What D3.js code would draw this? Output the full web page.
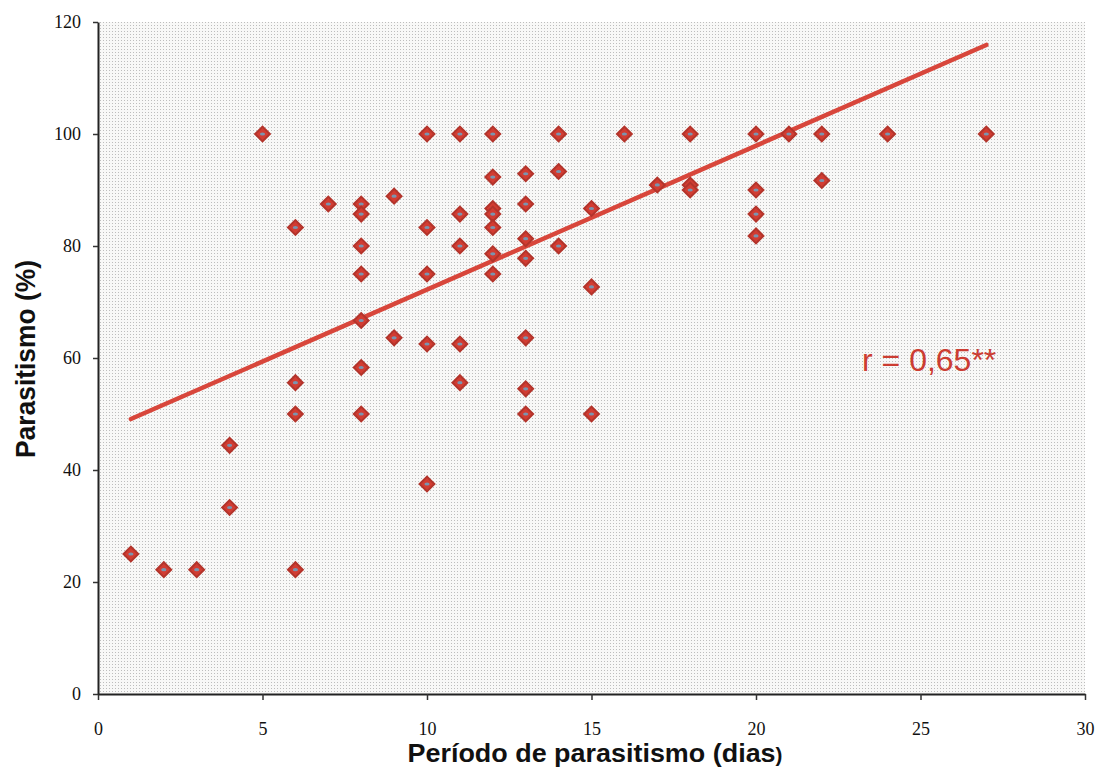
<!DOCTYPE html>
<html>
<head>
<meta charset="utf-8">
<script src="https://cdn.jsdelivr.net/npm/d3@7"></script>
<style>
  body { margin: 0; background: #fff; }
  .tick text { font-family: "Liberation Serif", "Times New Roman", serif; font-size: 18px; fill: #111; }
  .axis-title { font-family: "Liberation Sans", Arial, sans-serif; font-weight: bold; fill: #111; }
</style>
</head>
<body>
<div id="chart"></div>
<script>
// days of parasitism (x) and parasitism % (y)
const dias = [1, 2, 3, 4, 4, 5, 6, 6, 6, 6, 7,
    8, 8, 8, 8, 8, 8, 8, 9, 9,
    10, 10, 10, 10, 10, 11, 11, 11, 11, 11,
    12, 12, 12, 12, 12, 12, 12,
    13, 13, 13, 13, 13, 13, 13,
    14, 14, 14, 15, 15, 15, 16, 17, 18, 18, 18,
    20, 20, 20, 20, 21, 22, 22, 24, 27];
const parasitismo = [25, 22.2, 22.2, 44.4, 33.3, 100, 83.3, 55.6, 50, 22.2, 87.5,
    87.5, 85.7, 80, 75, 66.7, 58.3, 50, 88.9, 63.6,
    100, 83.3, 75, 62.5, 37.5, 100, 85.7, 80, 62.5, 55.6,
    100, 92.3, 86.7, 85.7, 83.3, 78.6, 75,
    92.9, 87.5, 81.3, 77.8, 63.6, 54.5, 50,
    100, 93.3, 80, 86.7, 72.7, 50, 100, 90.9, 100, 90.9, 90,
    100, 90, 85.7, 81.8, 100, 100, 91.7, 100, 100];

// fitted line end points
const lineX = [1, 27];
const lineY = [49.1, 115.9];

const xTicks = [0, 5, 10, 15, 20, 25, 30];
const yTicks = [0, 20, 40, 60, 80, 100, 120];

const height = 768,
    width = 1096,
    margin = ({ top: 22, right: 11, bottom: 74, left: 98 });

const svg = d3.select("#chart")
    .append("svg")
    .attr("width", width)
    .attr("height", height);

// stippled background like the scanned print
const defs = svg.append("defs");
const pat = defs.append("pattern")
    .attr("id", "dots")
    .attr("width", 3)
    .attr("height", 3)
    .attr("patternUnits", "userSpaceOnUse");
pat.append("rect").attr("width", 3).attr("height", 3).attr("fill", "#f8f8f7");
pat.append("rect").attr("x", 1).attr("y", 1).attr("width", 1).attr("height", 1).attr("fill", "#bdbdbd");

let x = d3.scaleLinear()
    .domain([0, 30])
    .range([margin.left, width - margin.right]);

let y = d3.scaleLinear()
    .domain([0, 120])
    .range([height - margin.bottom, margin.top]);

svg.append("rect")
    .attr("x", x(0))
    .attr("y", y(120))
    .attr("width", x(30) - x(0))
    .attr("height", y(0) - y(120))
    .attr("fill", "url(#dots)");

// axes
svg.append("g")
    .attr("transform", `translate(0,${y(0)})`)
    .attr("class", "x-axis")
    .call(d3.axisBottom(x).tickValues(xTicks).tickSize(6).tickSizeOuter(0).tickPadding(22))
    .call(g => g.select(".domain").attr("stroke", "#222").attr("stroke-width", 2))
    .call(g => g.selectAll(".tick line").attr("stroke", "#333").attr("stroke-width", 1.5));

svg.append("g")
    .attr("transform", `translate(${x(0)},0)`)
    .attr("class", "y-axis")
    .call(d3.axisLeft(y).tickValues(yTicks).tickSize(5).tickSizeOuter(0).tickPadding(12))
    .call(g => g.select(".domain").attr("stroke", "#222").attr("stroke-width", 2))
    .call(g => g.selectAll(".tick line").attr("stroke", "#333").attr("stroke-width", 1.5));

// axis titles
const xt = svg.append("text")
    .attr("class", "axis-title")
    .attr("text-anchor", "middle")
    .attr("x", 595)
    .attr("y", 762)
    .attr("font-size", 26)
    .attr("textLength", 375)
    .attr("lengthAdjust", "spacingAndGlyphs")
    .text("Período de parasitismo (dias");
xt.append("tspan").attr("font-size", 20).text(")");

svg.append("text")
    .attr("class", "axis-title")
    .attr("text-anchor", "middle")
    .attr("font-size", 28)
    .attr("textLength", 198)
    .attr("lengthAdjust", "spacingAndGlyphs")
    .attr("transform", `translate(35,359) rotate(-90)`)
    .text("Parasitismo (%)");

// regression line
let line = d3.line()
    .x(d => x(d[0]))
    .y(d => y(d[1]));

svg.append("path")
    .datum(d3.zip(lineX, lineY))
    .attr("d", line)
    .attr("fill", "none")
    .attr("stroke", "#d8463b")
    .attr("stroke-width", 4.5)
    .attr("stroke-linecap", "round");

// diamond markers
const pts = svg.append("g")
    .selectAll("g")
    .data(d3.zip(dias, parasitismo))
    .join("g")
    .attr("transform", d => `translate(${x(d[0])},${y(d[1])})`);

pts.append("path")
    .attr("d", d3.symbol(d3.symbolSquare, 110))
    .attr("transform", "rotate(45)")
    .attr("fill", "#d23c32")
    .attr("stroke", "#b3342b")
    .attr("stroke-width", 2);

pts.append("ellipse")
    .attr("rx", 2.6)
    .attr("ry", 1.6)
    .attr("fill", "#7b94ae");

// correlation label
svg.append("text")
    .attr("x", 862)
    .attr("y", 371)
    .attr("font-family", "Liberation Sans, Arial, sans-serif")
    .attr("font-size", 32)
    .attr("fill", "#cc3d32")
    .text("r = 0,65**");
</script>
</body>
</html>
